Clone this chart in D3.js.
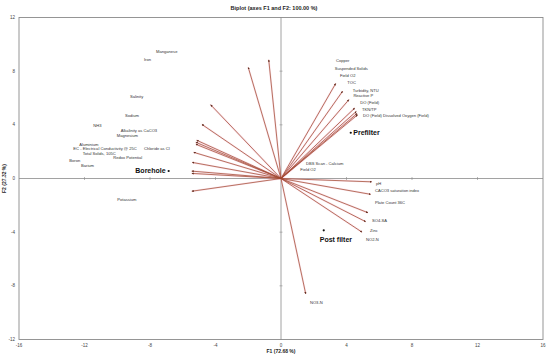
<!DOCTYPE html>
<html>
<head>
<meta charset="utf-8">
<script src="https://cdn.jsdelivr.net/npm/d3@7"></script>
<style>
  body { margin: 0; background: #fff; }
  svg { display: block; }
  text { font-family: "Liberation Sans Narrow", "Liberation Sans", sans-serif; fill: #222; }
</style>
</head>
<body>
<svg id="chart" width="550" height="355"></svg>
<script>
// variable labels (F1, F2 coordinates of the label anchors)
const varNames = [
  "Manganese", "Iron", "Salinity", "Sodium", "NH3", "Alkalinity as CaCO3", "Magnesium",
  "Aluminium", "EC  - Electrical Conductivity @ 25C", "Chloride as Cl", "Total Solids, 105C",
  "Redox Potential", "Boron", "Barium", "Potassium",
  "Copper", "Suspended Solids", "Field O2", "TOC", "Turbidity, NTU", "Reactive P",
  "DO (Field)", "TKN/TP", "DO (Field) Dissolved Oxygen (Field)",
  "DBS Scan  - Calcium", "Field O2",
  "pH", "CACO3 saturation index", "Plate Count 36C", "SO4-SA", "Zinc", "NO2-N", "NO3-N"
];
const varX = [
  -7.63, -8.37, -9.22, -9.53, -11.46, -9.79, -10.03,
  -12.32, -12.68, -8.37, -12.11,
  -10.24, -12.93, -12.21, -10.0,
  3.36, 3.28, 3.6, 4.05, 4.38, 4.42,
  4.84, 4.95, 5.01,
  1.53, 1.18,
  5.8, 5.74, 5.74, 5.56, 5.44, 5.19, 1.77
];
const varY = [
  9.45, 8.9, 6.1, 4.68, 3.93, 3.61, 3.22,
  2.57, 2.27, 2.27, 1.88,
  1.58, 1.36, 0.98, -1.55,
  8.76, 8.23, 7.71, 7.17, 6.57, 6.15,
  5.65, 5.16, 4.71,
  1.15, 0.66,
  -0.39, -0.91, -1.77, -3.11, -3.86, -4.53, -9.22
];

// loading vectors (tips)
const vecX = [
  -0.75, -2.0, -4.3, -4.83, -5.15, -5.2, -5.2, -5.33, -5.42, -5.45, -5.45, -5.45,
  3.34, 3.76, 4.15, 4.5, 4.6, 4.65, 4.68,
  5.54, 5.47, 5.31, 5.17, 4.95, 1.51
];
const vecY = [
  8.85, 8.28, 5.5, 4.03, 2.85, 2.7, 2.55, 1.95, 1.2, 0.55, 0.38, -0.95,
  7.08, 6.5, 5.88, 5.25, 5.0, 4.85, 4.75,
  -0.25, -1.18, -2.55, -3.22, -4.0, -8.6
];

// observations
const obsNames = ["Borehole", "Prefilter", "Post filter"];
const obsX = [-6.86, 4.26, 2.61];
const obsY = [0.56, 3.41, -3.86];

const xTicks = [-16, -12, -8, -4, 0, 4, 8, 12, 16];
const yTicks = [-12, -8, -4, 0, 4, 8, 12];

const svg = d3.select("#chart");
const margin = { left: 19, right: 7, top: 17.5, bottom: 15.5 };
const width = 550, height = 355;

const x = d3.scaleLinear().domain([-16, 16]).range([margin.left, width - margin.right]);
const y = d3.scaleLinear().domain([-12, 12]).range([height - margin.bottom, margin.top]);

// frame
svg.append("rect")
  .attr("x", x(-16)).attr("y", y(12))
  .attr("width", x(16) - x(-16)).attr("height", y(-12) - y(12))
  .attr("fill", "none").attr("stroke", "#8a8a8a").attr("stroke-width", 0.9);

// zero lines
svg.append("line")
  .attr("x1", x(-16)).attr("x2", x(16)).attr("y1", y(0)).attr("y2", y(0))
  .attr("stroke", "#8a8a8a").attr("stroke-width", 0.8);
svg.append("line")
  .attr("x1", x(0)).attr("x2", x(0)).attr("y1", y(12)).attr("y2", y(-12))
  .attr("stroke", "#8a8a8a").attr("stroke-width", 0.8);

// small ticks on the zero lines
svg.selectAll(".xt").data(xTicks.filter(d => Math.abs(d) < 16)).enter().append("line")
  .attr("x1", d => x(d)).attr("x2", d => x(d))
  .attr("y1", y(0) - 1.5).attr("y2", y(0) + 1.5)
  .attr("stroke", "#8a8a8a").attr("stroke-width", 0.6);
svg.selectAll(".yt").data(yTicks.filter(d => Math.abs(d) < 12)).enter().append("line")
  .attr("y1", d => y(d)).attr("y2", d => y(d))
  .attr("x1", x(0) - 1.5).attr("x2", x(0) + 1.5)
  .attr("stroke", "#8a8a8a").attr("stroke-width", 0.6);

// tick labels
svg.selectAll(".xl").data(xTicks).enter().append("text")
  .attr("x", d => x(d)).attr("y", y(-12) + 7)
  .attr("text-anchor", "middle")
  .style("font-size", "4.5px").style("fill", "#444")
  .text(d => d);
svg.selectAll(".yl").data(yTicks).enter().append("text")
  .attr("x", x(-16) - 4).attr("y", d => y(d))
  .attr("text-anchor", "end").attr("dominant-baseline", "central")
  .style("font-size", "4.5px").style("fill", "#444")
  .text(d => d);

// title and axis titles
svg.append("text")
  .attr("x", 274).attr("y", 10)
  .attr("text-anchor", "middle")
  .style("font-size", "5.5px").style("font-weight", "bold")
  .text("Biplot (axes F1 and F2: 100.00 %)");
svg.append("text")
  .attr("x", x(0)).attr("y", 353)
  .attr("text-anchor", "middle")
  .style("font-size", "5px").style("font-weight", "bold")
  .text("F1 (72.68 %)");
svg.append("text")
  .attr("transform", `translate(6,${y(0)}) rotate(-90)`)
  .attr("text-anchor", "middle")
  .style("font-size", "5px").style("font-weight", "bold")
  .text("F2 (27.32 %)");

// arrow marker
svg.append("defs").append("marker")
  .attr("id", "arrow")
  .attr("viewBox", "0 0 10 10")
  .attr("refX", 9).attr("refY", 5)
  .attr("markerWidth", 2.2).attr("markerHeight", 2.2)
  .attr("markerUnits", "userSpaceOnUse")
  .attr("orient", "auto")
  .append("path").attr("d", "M0,0L10,5L0,10Z").attr("fill", "#5e2c1e");

const vectors = vecX.map((vx, i) => ({ x: vx, y: vecY[i] }));

// pink halo under the vectors
svg.selectAll(".halo").data(vectors).enter().append("line")
  .attr("x1", x(0)).attr("y1", y(0))
  .attr("x2", d => x(d.x)).attr("y2", d => y(d.y))
  .attr("stroke", "#f6b8cf").attr("stroke-width", 2).attr("stroke-opacity", 0.35);

svg.selectAll(".vec").data(vectors).enter().append("line")
  .attr("x1", x(0)).attr("y1", y(0))
  .attr("x2", d => x(d.x)).attr("y2", d => y(d.y))
  .attr("stroke", "#a04a30").attr("stroke-width", 0.75)
  .attr("marker-end", "url(#arrow)");

// variable labels
svg.selectAll(".var").data(varNames).enter().append("text")
  .attr("x", (d, i) => x(varX[i])).attr("y", (d, i) => y(varY[i]))
  .attr("dominant-baseline", "central")
  .style("font-size", "4.1px").style("fill", "#333")
  .text(d => d);

// observations
const obs = obsNames.map((n, i) => ({ name: n, x: obsX[i], y: obsY[i] }));
svg.selectAll(".obs").data(obs).enter().append("circle")
  .attr("cx", d => x(d.x)).attr("cy", d => y(d.y))
  .attr("r", 1.1).attr("fill", "#111");

const obsLabel = svg.selectAll(".obsl").data(obs).enter().append("text")
  .attr("dominant-baseline", "central")
  .style("font-size", "7px").style("font-weight", "bold")
  .style("font-family", "'Liberation Sans', sans-serif")
  .style("fill", "#111")
  .text(d => d.name);
obsLabel.filter(d => d.name === "Borehole")
  .attr("x", d => x(d.x) - 3).attr("y", d => y(d.y))
  .attr("text-anchor", "end");
obsLabel.filter(d => d.name === "Prefilter")
  .attr("x", d => x(d.x) + 2.5).attr("y", d => y(d.y));
obsLabel.filter(d => d.name === "Post filter")
  .attr("x", d => x(d.x) - 4).attr("y", d => y(d.y) + 9);
</script>
</body>
</html>
